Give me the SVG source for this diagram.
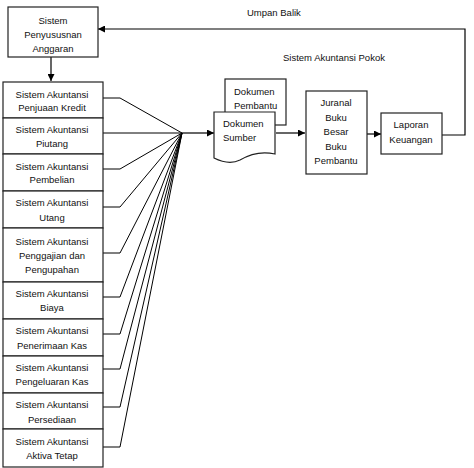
<svg xmlns="http://www.w3.org/2000/svg" width="474" height="468" viewBox="0 0 474 468">
<defs>
<marker id="ah" viewBox="0 0 10 10" refX="10" refY="5" markerWidth="7" markerHeight="7" markerUnits="userSpaceOnUse" orient="auto">
<path d="M0,0 L10,5 L0,10 Z" fill="#000"/>
</marker>
<style>
.box{fill:#fff;stroke:#222;stroke-width:1.2}
.t{font-family:"Liberation Sans",Arial,sans-serif;font-size:9.5px;fill:#111;text-anchor:middle}
.l{font-family:"Liberation Sans",Arial,sans-serif;font-size:9.5px;fill:#111}
.c{fill:none;stroke:#000;stroke-width:1}
.a{fill:none;stroke:#000;stroke-width:1.2;marker-end:url(#ah)}
</style>
</defs>
<rect width="474" height="468" fill="#fff"/>

<g id="connectors">
<path class="a" d="M51,57 V81"/>
<path class="c" d="M103,98 H120 L182,133"/>
<path class="c" d="M103,133 H182"/>
<path class="c" d="M103,169 H120 L182,133"/>
<path class="c" d="M103,207 H120 L182,133"/>
<path class="c" d="M103,253 H120 L182,133"/>
<path class="c" d="M103,297 H120 L182,133"/>
<path class="c" d="M103,334 H120 L182,133"/>
<path class="c" d="M103,369 H120 L182,133"/>
<path class="c" d="M103,407 H120 L182,133"/>
<path class="c" d="M103,447 H120 L182,133"/>
<path class="a" d="M182,133 H214"/>
<path class="a" d="M276,133 H305"/>
<path class="a" d="M367,134 H381"/>
<path class="a" d="M442,135 H465 V29 H98"/>
</g>

<g id="anggaran">
<rect class="box" x="8" y="7" width="90" height="50"/>
<text class="t" x="53" y="24">Sistem</text>
<text class="t" x="53" y="38">Penyususnan</text>
<text class="t" x="53" y="52">Anggaran</text>
</g>

<g id="s1"><rect class="box" x="3" y="82" width="100" height="36"/>
<text class="t" x="52" y="98">Sistem Akuntansi</text><text class="t" x="52" y="111">Penjuaan Kredit</text></g>
<g id="s2"><rect class="box" x="3" y="118" width="100" height="36"/>
<text class="t" x="52" y="133">Sistem Akuntansi</text><text class="t" x="52" y="147">Piutang</text></g>
<g id="s3"><rect class="box" x="3" y="154" width="100" height="37"/>
<text class="t" x="52" y="170">Sistem Akuntansi</text><text class="t" x="52" y="183">Pembelian</text></g>
<g id="s4"><rect class="box" x="3" y="191" width="100" height="37"/>
<text class="t" x="52" y="206">Sistem Akuntansi</text><text class="t" x="52" y="221">Utang</text></g>
<g id="s5"><rect class="box" x="3" y="228" width="100" height="54"/>
<text class="t" x="52" y="245">Sistem Akuntansi</text><text class="t" x="52" y="259">Penggajian dan</text><text class="t" x="52" y="273">Pengupahan</text></g>
<g id="s6"><rect class="box" x="3" y="282" width="100" height="37"/>
<text class="t" x="52" y="297">Sistem Akuntansi</text><text class="t" x="52" y="311">Biaya</text></g>
<g id="s7"><rect class="box" x="3" y="319" width="100" height="37"/>
<text class="t" x="52" y="334">Sistem Akuntansi</text><text class="t" x="52" y="349">Penerimaan Kas</text></g>
<g id="s8"><rect class="box" x="3" y="356" width="100" height="37"/>
<text class="t" x="52" y="371">Sistem Akuntansi</text><text class="t" x="52" y="385">Pengeluaran Kas</text></g>
<g id="s9"><rect class="box" x="3" y="393" width="100" height="36"/>
<text class="t" x="52" y="408">Sistem Akuntansi</text><text class="t" x="52" y="423">Persediaan</text></g>
<g id="s10"><rect class="box" x="3" y="429" width="100" height="38"/>
<text class="t" x="52" y="445">Sistem Akuntansi</text><text class="t" x="52" y="459">Aktiva Tetap</text></g>

<g id="dokumen-pembantu">
<rect class="box" x="225" y="79" width="61" height="46"/>
<text class="l" x="234" y="95">Dokumen</text>
<text class="l" x="234" y="109">Pembantu</text>
</g>

<g id="dokumen-sumber">
<path class="box" d="M214,112 H275 V154 C262,151 250,154 240,160 C232,164 222,162 214,158 Z"/>
<text class="l" x="223" y="127">Dokumen</text>
<text class="l" x="223" y="141">Sumber</text>
</g>

<g id="jurnal">
<rect class="box" x="306" y="91" width="61" height="83"/>
<text class="t" x="336" y="106">Juranal</text>
<text class="t" x="336" y="121">Buku</text>
<text class="t" x="336" y="135">Besar</text>
<text class="t" x="336" y="150">Buku</text>
<text class="t" x="336" y="164">Pembantu</text>
</g>

<g id="laporan">
<rect class="box" x="381" y="113" width="61" height="41"/>
<text class="t" x="411" y="128">Laporan</text>
<text class="t" x="411" y="143">Keuangan</text>
</g>

<text class="l" x="247" y="16">Umpan Balik</text>
<text class="l" x="283" y="61">Sistem Akuntansi Pokok</text>
</svg>
